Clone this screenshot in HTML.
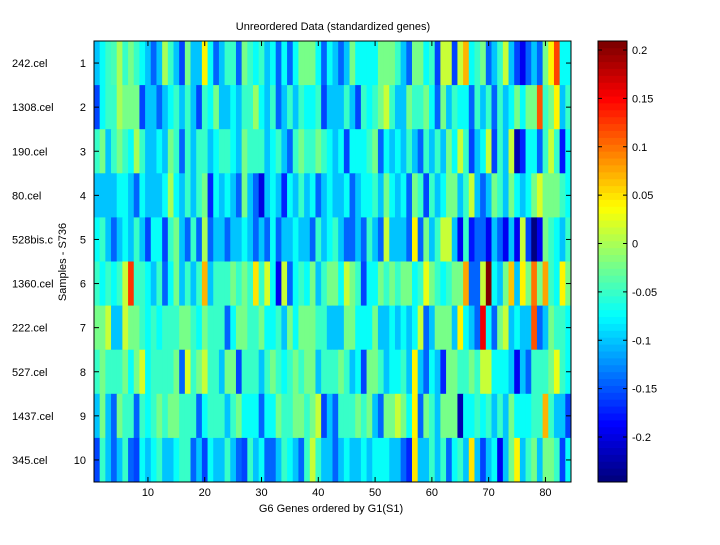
<!DOCTYPE html>
<html><head><meta charset="utf-8"><style>
body{margin:0;background:#fff;}
svg text{font-family:"Liberation Sans",Arial,sans-serif;font-size:11px;fill:#000;}
</style></head><body>
<svg id="chart" width="720" height="540" xmlns="http://www.w3.org/2000/svg">
<rect width="720" height="540" fill="#fff"/>
<text x="333" y="30" text-anchor="middle">Unreordered Data (standardized genes)</text>
<g id="cells"></g>
<g id="axes"></g>
<g id="cbar"></g>
<text x="331" y="512" text-anchor="middle">G6 Genes ordered by G1(S1)</text>
<text transform="translate(66,262) rotate(-90)" text-anchor="middle">Samples - S736</text>
</svg>
<script>
const sampleNames=["242.cel","1308.cel","190.cel","80.cel","528bis.c","1360.cel","222.cel","527.cel","1437.cel","345.cel"];
const xTicks=[10,20,30,40,50,60,70,80];
const cbarTicks=[0.2,0.15,0.1,0.05,0,-0.05,-0.1,-0.15,-0.2];
const cbarTickLabels=["0.2","0.15","0.1","0.05","0","-0.05","-0.1","-0.15","-0.2"];
const row1=[-0.10,-0.075,-0.05,-0.04,0.0,-0.05,-0.02,-0.05,-0.075,-0.10,-0.14,-0.10,0.0,-0.05,-0.10,-0.16,-0.02,-0.10,-0.10,0.04,-0.075,-0.14,-0.10,-0.05,-0.05,-0.14,-0.02,-0.05,-0.075,-0.05,-0.10,-0.075,-0.14,-0.075,-0.14,-0.075,-0.02,-0.02,-0.02,-0.075,-0.14,-0.075,
-0.10,-0.14,-0.10,-0.02,-0.075,-0.075,-0.075,-0.075,-0.02,-0.02,-0.02,-0.05,-0.10,-0.14,-0.02,-0.02,-0.075,-0.05,-0.16,0.01,0.01,-0.16,0.01,0.07,-0.075,-0.05,-0.02,-0.14,-0.10,-0.05,0.01,-0.10,-0.16,-0.19,-0.14,-0.10,-0.14,-0.02,0.04,0.12,-0.075,-0.075];
const row2=[-0.16,-0.075,-0.05,-0.05,0.0,-0.02,-0.02,-0.02,-0.16,-0.10,-0.10,-0.14,-0.10,-0.075,-0.05,-0.10,-0.05,-0.10,-0.16,-0.05,-0.075,-0.02,-0.10,-0.10,-0.075,-0.10,-0.05,-0.05,-0.01,-0.075,-0.10,-0.05,-0.14,-0.10,-0.05,-0.10,-0.05,-0.075,-0.075,-0.05,-0.16,-0.10,
-0.10,-0.10,-0.05,-0.10,-0.16,-0.05,-0.075,-0.05,-0.02,0.01,-0.05,-0.10,-0.10,-0.02,-0.05,-0.05,-0.02,-0.075,-0.14,-0.02,-0.10,-0.05,-0.075,-0.075,-0.14,-0.05,-0.10,-0.05,-0.14,-0.05,-0.10,-0.075,-0.02,-0.075,-0.02,-0.02,0.11,-0.05,-0.02,0.04,-0.10,-0.05];
const row3=[-0.05,-0.02,-0.10,-0.05,-0.02,-0.05,-0.075,0.0,-0.05,-0.10,-0.10,-0.075,-0.10,-0.02,-0.05,-0.14,-0.05,-0.10,-0.05,-0.05,-0.10,-0.075,-0.05,-0.05,-0.075,-0.10,-0.02,-0.05,-0.05,-0.05,-0.10,-0.075,-0.05,-0.10,-0.14,-0.05,-0.02,-0.05,-0.05,-0.02,-0.05,-0.075,
-0.10,-0.075,-0.16,-0.075,-0.075,-0.075,-0.05,-0.02,-0.14,-0.075,-0.10,-0.075,-0.10,-0.05,-0.10,-0.14,-0.05,-0.10,-0.05,-0.10,-0.02,-0.075,0.01,-0.05,-0.16,-0.10,-0.075,0.01,-0.16,-0.05,-0.10,0.01,-0.22,-0.17,-0.075,-0.075,-0.14,-0.05,0.01,-0.05,-0.18,-0.075];
const row4=[-0.10,-0.10,-0.10,-0.10,-0.075,-0.075,-0.10,-0.14,-0.075,-0.10,-0.10,-0.10,-0.075,0.0,-0.075,-0.10,-0.05,-0.10,-0.05,-0.02,-0.17,-0.075,-0.10,-0.075,-0.10,-0.14,-0.02,-0.10,-0.14,-0.20,-0.10,-0.075,-0.10,-0.17,-0.075,-0.10,-0.05,-0.10,-0.075,-0.14,-0.10,-0.075,
-0.10,-0.10,-0.075,-0.14,-0.10,-0.075,-0.075,-0.05,-0.10,-0.02,-0.075,-0.10,-0.075,-0.14,-0.02,-0.05,-0.16,-0.05,-0.10,-0.075,-0.02,-0.02,-0.10,-0.05,0.01,-0.10,-0.14,-0.10,-0.02,-0.05,-0.10,-0.02,-0.075,-0.10,-0.075,-0.02,0.02,-0.02,-0.02,-0.02,-0.05,-0.075];
const row5=[-0.075,-0.05,-0.10,-0.14,-0.10,-0.075,-0.10,-0.05,-0.10,-0.16,-0.075,-0.075,-0.16,-0.05,-0.02,-0.10,-0.14,-0.05,-0.14,0.0,-0.14,-0.10,-0.10,-0.14,-0.10,-0.10,-0.075,-0.10,-0.14,-0.10,-0.14,-0.075,-0.14,-0.10,-0.10,-0.075,-0.10,-0.10,-0.14,-0.05,-0.10,-0.075,
-0.05,-0.10,-0.14,-0.14,-0.10,-0.14,-0.05,-0.10,-0.14,0.01,-0.10,-0.10,-0.10,-0.14,0.04,-0.14,-0.02,-0.10,-0.05,0.01,0.01,-0.10,-0.19,-0.05,-0.18,-0.14,-0.14,-0.19,-0.10,-0.14,-0.19,-0.10,-0.19,0.01,-0.16,-0.245,-0.19,-0.02,-0.05,-0.075,-0.10,-0.05];
const row6=[-0.05,-0.075,-0.05,-0.075,-0.05,0.01,0.13,-0.05,-0.05,-0.075,-0.10,-0.05,-0.14,-0.075,-0.02,-0.10,-0.05,-0.10,-0.05,0.07,-0.10,-0.05,-0.05,-0.05,-0.02,-0.05,-0.02,-0.05,0.05,-0.05,0.02,-0.075,-0.19,0.01,-0.14,-0.075,-0.05,-0.075,-0.02,-0.10,-0.05,-0.02,
-0.02,-0.075,0.01,-0.02,-0.05,-0.16,-0.075,-0.075,-0.02,-0.05,-0.02,-0.05,-0.02,-0.02,-0.075,-0.05,0.03,-0.02,-0.05,-0.075,-0.05,-0.02,-0.02,0.08,-0.14,-0.14,0.01,0.21,-0.075,-0.10,-0.02,0.06,-0.10,0.04,-0.02,0.10,-0.02,0.08,-0.05,-0.075,0.04,-0.02];
const row7=[-0.02,-0.02,0.01,-0.10,-0.10,0.01,-0.02,-0.02,-0.05,-0.075,-0.05,-0.075,-0.05,-0.05,-0.05,-0.02,-0.02,-0.05,-0.075,-0.02,-0.05,-0.05,-0.05,-0.14,-0.075,-0.02,-0.02,-0.05,-0.05,-0.02,-0.075,-0.075,-0.05,-0.10,-0.02,-0.075,-0.02,-0.02,-0.02,-0.05,-0.05,-0.10,
-0.10,-0.10,-0.02,-0.02,-0.075,-0.075,-0.075,-0.02,-0.10,-0.10,-0.075,-0.10,-0.075,-0.10,-0.075,0.01,-0.14,-0.10,-0.02,-0.02,-0.02,-0.10,0.04,-0.075,-0.10,-0.14,0.155,-0.075,-0.14,-0.02,0.01,-0.10,-0.075,-0.10,-0.10,0.11,-0.14,-0.10,-0.02,-0.05,-0.05,-0.075];
const row8=[-0.05,-0.02,-0.05,-0.05,-0.05,-0.02,-0.075,-0.02,0.02,-0.075,-0.05,-0.05,-0.05,-0.05,-0.02,-0.14,0.02,-0.05,-0.02,0.01,-0.05,-0.05,-0.10,-0.02,-0.02,-0.16,-0.05,-0.05,-0.05,-0.10,-0.05,-0.02,-0.05,-0.075,-0.05,-0.02,-0.05,-0.02,-0.02,-0.10,-0.05,-0.05,
-0.05,-0.02,-0.05,-0.10,-0.075,-0.16,-0.02,-0.02,-0.05,-0.10,-0.075,-0.075,-0.05,-0.10,0.04,-0.10,-0.14,-0.075,-0.10,-0.17,-0.02,-0.02,-0.05,-0.05,-0.02,-0.05,0.01,0.01,-0.075,-0.075,-0.075,-0.10,-0.19,-0.10,-0.14,-0.05,-0.05,-0.05,-0.02,0.03,-0.05,-0.075];
const row9=[-0.10,-0.02,-0.10,-0.14,-0.02,-0.05,-0.05,-0.14,-0.05,-0.075,-0.05,-0.02,-0.05,-0.02,-0.02,-0.05,-0.05,-0.05,-0.14,-0.075,-0.05,-0.05,-0.05,-0.10,-0.05,-0.02,-0.075,-0.075,-0.075,-0.14,-0.075,-0.075,-0.02,-0.05,-0.05,-0.02,-0.02,-0.05,-0.02,0.01,-0.16,-0.10,
-0.14,-0.05,-0.05,-0.05,-0.02,-0.05,-0.02,-0.10,-0.14,-0.02,-0.02,0.01,-0.02,-0.075,0.04,-0.14,-0.02,-0.05,-0.10,-0.02,-0.02,-0.02,-0.22,-0.075,-0.075,-0.05,-0.075,-0.05,-0.10,-0.05,-0.10,-0.02,-0.075,-0.075,-0.075,-0.05,-0.05,0.07,-0.05,-0.10,-0.10,-0.16];
const row10=[-0.16,-0.05,-0.10,-0.14,-0.10,-0.05,-0.14,-0.16,-0.075,-0.10,-0.075,-0.05,-0.10,-0.10,-0.075,-0.05,-0.05,-0.14,-0.10,-0.16,-0.075,-0.10,-0.10,-0.05,-0.10,-0.14,-0.16,-0.05,-0.10,-0.075,-0.14,-0.14,-0.10,-0.05,-0.075,-0.10,-0.14,-0.05,0.01,-0.05,-0.10,-0.10,
-0.14,-0.10,-0.075,-0.10,-0.10,-0.075,-0.10,-0.075,-0.075,-0.075,-0.10,-0.10,-0.14,-0.17,0.05,-0.10,-0.10,-0.05,-0.10,-0.05,-0.14,-0.075,-0.05,-0.10,0.05,-0.10,-0.16,-0.10,-0.075,-0.19,-0.10,-0.02,0.04,-0.10,-0.05,-0.02,-0.10,-0.02,-0.02,-0.05,-0.16,-0.075];
const rows=[row1,row2,row3,row4,row5,row6,row7,row8,row9,row10];
const cmin=-0.2465,cmax=0.2093;

const NS="http://www.w3.org/2000/svg";
const L=94,R=571,T=41,B=482;
const nCols=row1.length,nRows=rows.length;
function xs(v){return L+(v-0.5)*(R-L)/nCols;}
function ys(v){return T+(v-0.5)*(B-T)/nRows;}
function cy(v){return T+(cmax-v)/(cmax-cmin)*(B-T);}
function jet(v){
  let t=(v-cmin)/(cmax-cmin);t=Math.max(0,Math.min(1,t));
  t=Math.min(63,Math.floor(t*64))/63;
  const c=x=>Math.round(255*Math.max(0,Math.min(1,x)));
  return `rgb(${c(1.5-Math.abs(4*t-3))},${c(1.5-Math.abs(4*t-2))},${c(1.5-Math.abs(4*t-1))})`;
}
function mk(tag,attrs,parent){const e=document.createElementNS(NS,tag);for(const k in attrs)e.setAttribute(k,attrs[k]);parent.appendChild(e);return e;}
const cells=document.getElementById('cells');
rows.forEach((row,ri)=>{row.forEach((v,ci)=>{
  const x0=xs(ci+1-0.5),x1=xs(ci+1+0.5),y0=ys(ri+1-0.5),y1=ys(ri+1+0.5);
  const r=mk('rect',{x:x0,y:y0,width:x1-x0+0.4,height:y1-y0+0.4,fill:jet(v)},cells);
  
  
});});
const ax=document.getElementById('axes');
const frame=mk('rect',{x:L,y:T,width:R-L,height:B-T,fill:'none',stroke:'#000','stroke-width':1},ax);


xTicks.forEach(t=>{
  const x=xs(t);
  mk('line',{x1:x,x2:x,y1:B,y2:B-5,stroke:'#000'},ax);
  mk('line',{x1:x,x2:x,y1:T,y2:T+5,stroke:'#000'},ax);
  const tx=mk('text',{x:x,y:B+14,'text-anchor':'middle'},ax);tx.textContent=t;
  
  
});
sampleNames.forEach((n,i)=>{
  const y=ys(i+1);
  mk('line',{x1:L,x2:L+5,y1:y,y2:y,stroke:'#000'},ax);
  mk('line',{x1:R,x2:R-5,y1:y,y2:y,stroke:'#000'},ax);
  const tn=mk('text',{x:86,y:y+4,'text-anchor':'end'},ax);tn.textContent=i+1;
  
  
  const sn=mk('text',{x:12,y:y+4},ax);sn.textContent=n;
  
  
});
const cb=document.getElementById('cbar');
const CL=598,CR=627,steps=64;
for(let k=0;k<steps;k++){
  const v0=cmin+(cmax-cmin)*k/steps,v1=cmin+(cmax-cmin)*(k+1)/steps;
  const s=mk('rect',{x:CL,y:cy(v1),width:CR-CL,height:cy(v0)-cy(v1)+0.4,fill:jet((v0+v1)/2)},cb);
  
  
}
mk('rect',{x:CL,y:T,width:CR-CL,height:B-T,fill:'none',stroke:'#000'},cb);
cbarTicks.forEach((t,i)=>{
  const y=cy(t);
  mk('line',{x1:CR,x2:CR-4,y1:y,y2:y,stroke:'#000'},cb);
  mk('line',{x1:CL,x2:CL+4,y1:y,y2:y,stroke:'#000'},cb);
  const tl=mk('text',{x:CR+5,y:y+4},cb);tl.textContent=cbarTickLabels[i];
  
  
});
</script>
</body></html>
